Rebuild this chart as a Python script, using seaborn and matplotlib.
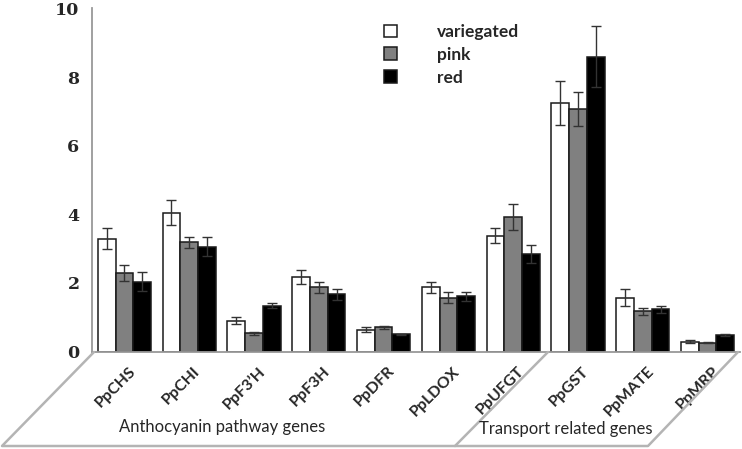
import numpy as np
import pandas as pd
import matplotlib
matplotlib.use("Agg")
import matplotlib.pyplot as plt
import seaborn as sns
from matplotlib.lines import Line2D
from matplotlib.transforms import ScaledTranslation

# 데이터
genes = ["PpCHS", "PpCHI", "PpF3’H", "PpF3H", "PpDFR", "PpLDOX",
         "PpUFGT", "PpGST", "PpMATE", "PpMRP"]
variegated = [3.29, 4.05, 0.90, 2.18, 0.63, 1.87, 3.37, 7.25, 1.57, 0.29]
variegated_err = [0.30, 0.37, 0.10, 0.20, 0.07, 0.17, 0.22, 0.64, 0.24, 0.04]
pink = [2.28, 3.18, 0.53, 1.87, 0.70, 1.57, 3.93, 7.06, 1.17, 0.26]
pink_err = [0.23, 0.15, 0.04, 0.17, 0.05, 0.17, 0.38, 0.50, 0.10, 0.02]
red = [2.04, 3.06, 1.34, 1.67, 0.50, 1.61, 2.85, 8.60, 1.23, 0.48]
red_err = [0.27, 0.27, 0.08, 0.16, 0.02, 0.13, 0.26, 0.90, 0.10, 0.03]
series = ["variegated", "pink", "red"]
group_labels = ["Anthocyanin pathway genes", "Transport related genes"]

df = pd.concat([
    pd.DataFrame({"gene": genes, "value": v, "series": s})
    for s, v in zip(series, [variegated, pink, red])
])

sns.set_style("white")
plt.rcParams["font.family"] = ["Lato", "DejaVu Sans"]

W, H = 742, 449
fig = plt.figure(figsize=(W / 100, H / 100), dpi=100)
ax = fig.add_axes([92 / W, 97.5 / H, 648 / W, 343 / H])

sns.barplot(data=df, x="gene", y="value", hue="series", order=genes,
            hue_order=series, palette={"variegated": "white", "pink": "#808080", "red": "black"},
            edgecolor="#1a1a1a", linewidth=1.1, width=0.82, gap=0, errorbar=None, ax=ax)

# 오차 막대
for cont, errs in zip(ax.containers, [variegated_err, pink_err, red_err]):
    xs = [b.get_x() + b.get_width() / 2 for b in cont]
    ys = [b.get_height() for b in cont]
    ax.errorbar(xs, ys, yerr=errs, fmt="none", ecolor="#333333",
                elinewidth=1, capsize=3.5, capthick=1)

ax.set_ylim(0, 10)
ax.set_yticks([0, 2, 4, 6, 8, 10])
ax.set_xlim(-0.5, 9.5)
ax.set_xlabel("")
ax.set_ylabel("")
for lab in ax.get_yticklabels():
    lab.set_fontfamily("DejaVu Serif")
    lab.set_fontweight("bold")
    lab.set_fontsize(12.5)
ax.tick_params(axis="y", length=4, color="#999999", pad=5)

ax.set_xticks(range(len(genes)))
ax.set_xticklabels(genes, rotation=45, ha="right", va="top", rotation_mode="anchor",
                   fontweight="bold", fontsize=11.5)
ax.tick_params(axis="x", which="major", length=0, pad=9)
ax.set_xticks(np.arange(0.5, 9.5, 1), minor=True)
ax.tick_params(axis="x", which="minor", length=4, color="#999999", direction="out")
shift = ScaledTranslation(4 / 100, 0, fig.dpi_scale_trans)
for lab in ax.get_xticklabels():
    lab.set_transform(lab.get_transform() + shift)

sns.despine(ax=ax)
for side in ["left", "bottom"]:
    ax.spines[side].set_color("#999999")
    ax.spines[side].set_linewidth(1.3)

sns.move_legend(ax, "upper left", bbox_to_anchor=(0.45, 0.955), frameon=False,
                title=None, handlelength=0.75, handleheight=0.75,
                handletextpad=2.3, labelspacing=0.4, borderpad=0, borderaxespad=0,
                prop={"weight": "bold", "size": 12.5})

# 하단 사선 표
def fx(px):
    return px / W

def fy(py):
    return (H - py) / H

gray = "#b4b4b4"
fig.add_artist(Line2D([fx(94), fx(2), fx(648), fx(738)],
                      [fy(352), fy(446), fy(446), fy(352)],
                      color=gray, lw=1.8, transform=fig.transFigure))
fig.add_artist(Line2D([fx(548), fx(455)], [fy(352), fy(446)],
                      color=gray, lw=1.8, transform=fig.transFigure))

fig.text(fx(222), fy(427), group_labels[0], ha="center", va="center", fontsize=12)
fig.text(fx(566), fy(429), group_labels[1], ha="center", va="center", fontsize=12)

fig.savefig("out.png", dpi=100)
